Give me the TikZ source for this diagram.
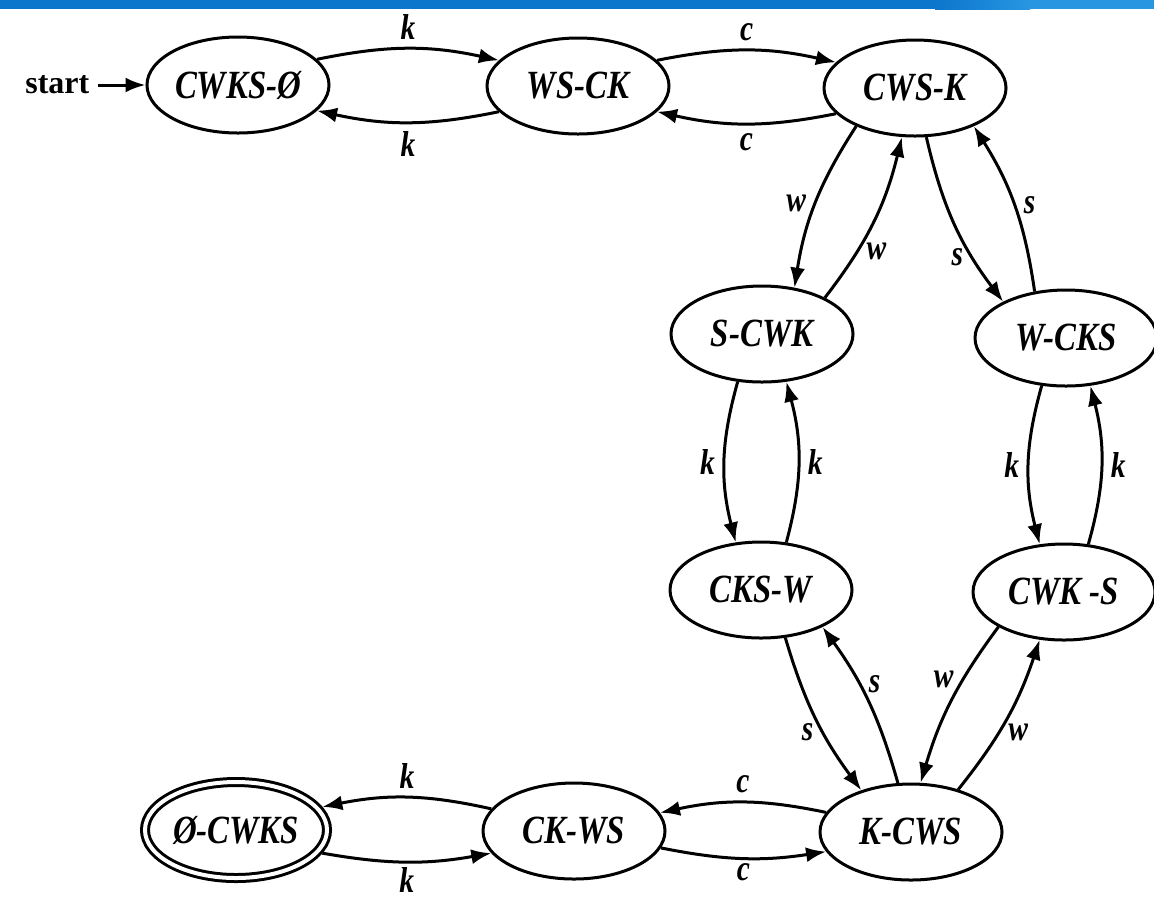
\documentclass[tikz,border=0pt]{standalone}
\usepackage{fontspec}
\setmainfont{Liberation Serif}
\newfontfamily\statefont{Liberation Serif}[FakeStretch=0.82]
\usetikzlibrary{arrows, arrows.meta, automata, shapes.geometric}

\definecolor{barblue}{RGB}{12,118,204}
\definecolor{barlight}{RGB}{40,150,225}

\begin{document}
\begin{tikzpicture}[x=0.5pt, y=0.5pt, >={Latex[length=10pt, width=7.5pt]}, line width=1.5pt,
  every state/.style={ellipse, draw, line width=1.5pt, minimum width=91pt,
    minimum height=48pt, inner sep=0pt,
    font=\statefont\fontsize{20}{20}\selectfont\bfseries\itshape},
  initial text={start}, initial distance=24pt,
  every initial by arrow/.style={font=\fontsize{16}{16}\selectfont\bfseries\upshape},
  accepting/.style={double, double distance=2pt, outer sep=2.5pt},
  lbl/.style={font=\statefont\fontsize{18}{18}\selectfont\bfseries\itshape, inner sep=4pt}]
\useasboundingbox (0,0) rectangle (1154,-907);
\fill[barblue] (0,0) rectangle (1154,-9);
\shade[left color=barblue, right color=barlight] (935,0) rectangle (1030,-9);
\fill[barlight] (1030,0) rectangle (1154,-9);

% states
\node[state, initial] (CWKSO) at (238,-85) {CWKS-Ø};
\node[state] (WSCK) at (578,-86) {WS-CK};
\node[state] (CWSK) at (915,-88) {CWS-K};
\node[state] (SCWK) at (762,-334) {S-CWK};
\node[state] (WCKS) at (1066,-338) {W-CKS};
\node[state] (CKSW) at (761,-590) {CKS-W};
\node[state] (CWKS) at (1064,-592) {CWK -S};
\node[state] (KCWS) at (911,-832) {K-CWS};
\node[state] (CKWS) at (574,-831) {CK-WS};
\node[state, accepting] (OCWKS) at (236,-830) {Ø-CWKS};

% moves
\path[->]
  (CWKSO.18) edge[bend left=12] node[lbl, above] {k} (WSCK.162)
  (WSCK.198) edge[bend left=12] node[lbl, below] {k} (CWKSO.342)
  (WSCK.18) edge[bend left=12] node[lbl, above] {c} (CWSK.162)
  (CWSK.198) edge[bend left=12] node[lbl, below] {c} (WSCK.342)
  (CWSK.213) edge[bend right=12] node[lbl, left] {w} (SCWK.55)
  (SCWK.30) edge[bend right=12] node[lbl, pos=0.3, right] {w} (CWSK.255)
  (CWSK.283) edge[bend right=12] node[lbl, pos=0.72, left] {s} (WCKS.150)
  (WCKS.124) edge[bend right=12] node[lbl, right] {s} (CWSK.327)
  (SCWK.243) edge[bend right=15] node[lbl, left] {k} (CKSW.118)
  (CKSW.62) edge[bend right=15] node[lbl, right] {k} (SCWK.297)
  (WCKS.243) edge[bend right=15] node[lbl, left] {k} (CWKS.117)
  (CWKS.63) edge[bend right=15] node[lbl, right] {k} (WCKS.297)
  (CKSW.297) edge[bend right=10] node[lbl, pos=0.6, left] {s} (KCWS.140)
  (KCWS.105) edge[bend right=10] node[lbl, pos=0.62, right] {s} (CKSW.329)
  (CWKS.208) edge[bend right=10] node[lbl, pos=0.35, left] {w} (KCWS.79)
  (KCWS.42) edge[bend right=10] node[lbl, pos=0.4, right] {w} (CWKS.243)
  (KCWS.167) edge[bend right=12] node[lbl, above] {c} (CKWS.12)
  (CKWS.349) edge[bend right=10] node[lbl, below, inner sep=2pt] {c} (KCWS.193)
  (CKWS.165) edge[bend right=12] node[lbl, above] {k} (OCWKS.15)
  (OCWKS.345) edge[bend right=10] node[lbl, below, inner sep=2pt] {k} (CKWS.195);
\end{tikzpicture}
\end{document}
